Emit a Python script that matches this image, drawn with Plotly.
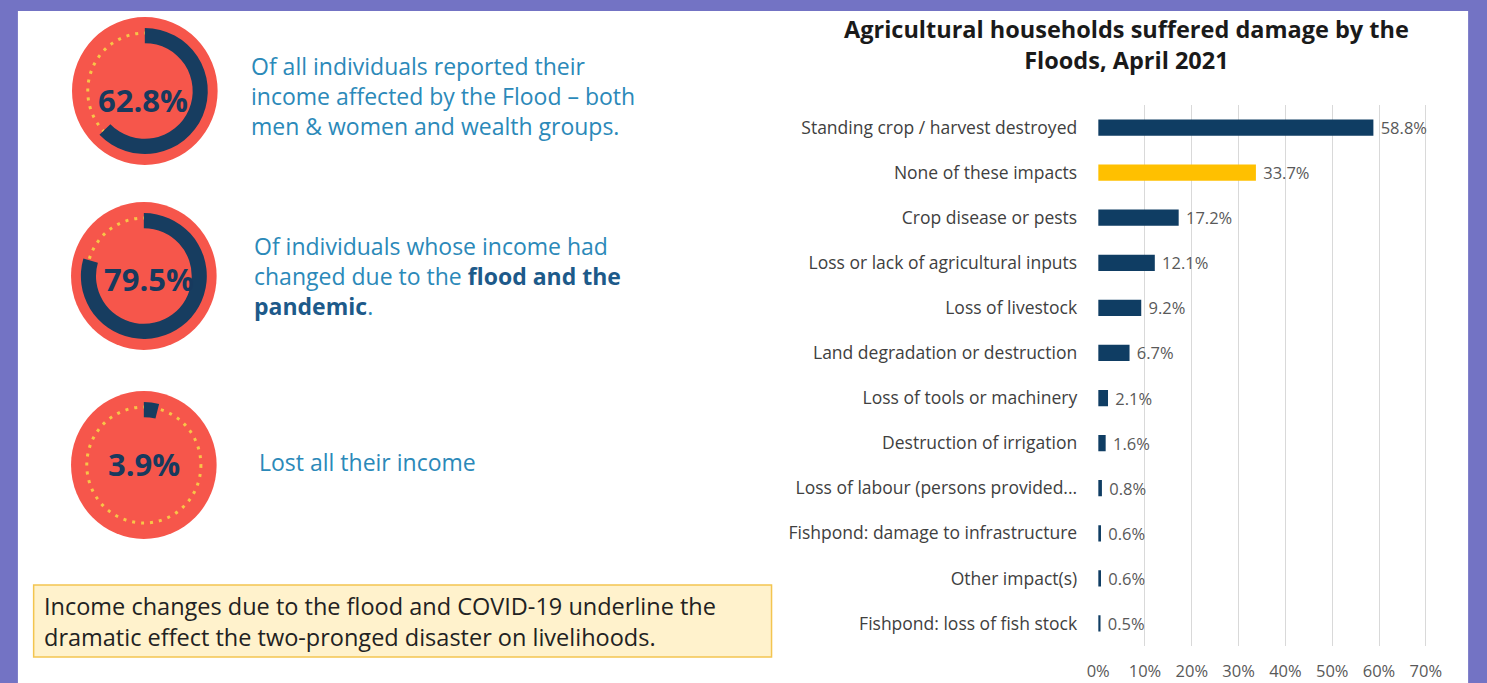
import plotly.graph_objects as go

W, H = 1487, 683

# ---------------- data ----------------
categories = [
    "Standing crop / harvest destroyed",
    "None of these impacts",
    "Crop disease or pests",
    "Loss or lack of agricultural inputs",
    "Loss of livestock",
    "Land degradation or destruction",
    "Loss of tools or machinery",
    "Destruction of irrigation",
    "Loss of labour (persons provided...",
    "Fishpond: damage to infrastructure",
    "Other impact(s)",
    "Fishpond: loss of fish stock",
]
values = [58.8, 33.7, 17.2, 12.1, 9.2, 6.7, 2.1, 1.6, 0.8, 0.6, 0.6, 0.5]
highlight = "None of these impacts"
x_ticks = [0, 10, 20, 30, 40, 50, 60, 70]

donut_values = [62.8, 79.5, 3.9]
donut_texts = [
    "Of all individuals reported their<br>income affected by the Flood – both<br>men &amp; women and wealth groups.",
    "Of individuals whose income had<br>changed due to the <span style='color:#1d5a8a'><b>flood and the</b></span><br><span style='color:#1d5a8a'><b>pandemic</b></span>.",
    "Lost all their income",
]
note_text = "Income changes due to the flood and COVID-19 underline the<br>dramatic effect the two-pronged disaster on livelihoods."
title_text = "<b>Agricultural households suffered damage by the<br>Floods, April 2021</b>"

# ---------------- styles ----------------
NAVY = "#0f3d63"
RING = "#173d60"
YELLOW = "#ffc000"
RED = "#f6564b"
DOT = "#f7c548"
PURPLE = "#7373c4"
TEXTBLUE = "#2b89b9"
FONT = "Open Sans"


def px(x):
    return x / W


def py(y):
    return 1 - y / H


fig = go.Figure()

# ---- bar chart ----
bar_colors = [YELLOW if c == highlight else NAVY for c in categories]
fig.add_trace(go.Bar(
    y=categories, x=values, orientation="h",
    marker=dict(color=bar_colors, line=dict(width=0)),
    width=0.36,
    text=[f" {v:.1f}%" for v in values],
    textposition="outside",
    constraintext="none",
    textfont=dict(family=FONT, size=16.5, color="#595959"),
    cliponaxis=False,
    hoverinfo="x+y",
    showlegend=False,
))

x0_px, x70_px = 1104, 1437
scale = (x70_px - x0_px) / 70.0
xmax = 71
fig.update_xaxes(
    domain=[px(x0_px), px(x0_px + xmax * scale)],
    range=[0, xmax],
    tickvals=x_ticks,
    ticktext=[f"{t}%" for t in x_ticks],
    showgrid=True, gridcolor="#d9d9d9", gridwidth=1,
    zeroline=False, showline=False,
    tickfont=dict(family=FONT, size=16.5, color="#595959"),
    ticklabelstandoff=13,
    fixedrange=True,
)
fig.update_yaxes(
    domain=[py(646), py(105)],
    autorange="reversed",
    showgrid=False, zeroline=False, showline=False,
    tickfont=dict(family=FONT, size=17.5, color="#404040"),
    ticklabelstandoff=20,
    fixedrange=True,
)

# ---- donuts ----
centers = [(135, 91), (134, 276), (134, 465)]
label_pos = [(133, 100), (139, 279), (134, 464)]
R_RED = 74
R_OUT = 64
R_DOT = 58
shapes = [
    dict(type="rect", xref="paper", yref="paper", x0=px(6), x1=px(1480), y0=0, y1=py(11),
         fillcolor="white", line=dict(width=0), layer="below"),
    dict(type="rect", xref="paper", yref="paper", x0=px(22), x1=px(772), y0=py(585), y1=py(657),
         fillcolor="#fff2cc", line=dict(color="#f3c550", width=1.5), layer="below"),
]
for (cx, cy), v in zip(centers, donut_values):
    shapes.append(dict(type="circle", xref="paper", yref="paper",
                       x0=px(cx - R_RED), x1=px(cx + R_RED), y0=py(cy + R_RED), y1=py(cy - R_RED),
                       fillcolor=RED, line=dict(width=0), layer="below"))
    shapes.append(dict(type="circle", xref="paper", yref="paper",
                       x0=px(cx - R_DOT), x1=px(cx + R_DOT), y0=py(cy + R_DOT), y1=py(cy - R_DOT),
                       fillcolor="rgba(0,0,0,0)", line=dict(color=DOT, width=3, dash="3px,6px"),
                       layer="below"))
    fig.add_trace(go.Pie(
        values=[v, 100 - v],
        marker=dict(colors=[RING, "rgba(0,0,0,0)"], line=dict(width=0)),
        hole=0.76, sort=False, direction="clockwise", rotation=0,
        textinfo="none", hoverinfo="skip", showlegend=False,
        domain=dict(x=[px(cx - R_OUT), px(cx + R_OUT)], y=[py(cy + R_OUT), py(cy - R_OUT)]),
    ))

annotations = []
for (lx, ly), v in zip(label_pos, donut_values):
    annotations.append(dict(xref="paper", yref="paper", x=px(lx), y=py(ly),
                            text=f"<b>{v:.1f}%</b>", showarrow=False,
                            font=dict(family=FONT, size=31, color="#173a5e"),
                            xanchor="center", yanchor="middle"))

text_pos = [(241, 96), (244, 276), (249, 462)]
for (tx, ty), t in zip(text_pos, donut_texts):
    annotations.append(dict(xref="paper", yref="paper", x=px(tx), y=py(ty), text=t,
                            showarrow=False, align="left", xanchor="left", yanchor="middle",
                            font=dict(family=FONT, size=23, color=TEXTBLUE)))

annotations.append(dict(xref="paper", yref="paper", x=px(31), y=py(621), text=note_text,
                        showarrow=False, align="left", xanchor="left", yanchor="middle",
                        font=dict(family=FONT, size=23.5, color="#222222")))
annotations.append(dict(xref="paper", yref="paper", x=px(1133), y=py(44), text=title_text,
                        showarrow=False, align="center", xanchor="center", yanchor="middle",
                        font=dict(family=FONT, size=23.5, color="#1a1a1a")))

fig.update_layout(
    width=W, height=H,
    margin=dict(l=0, r=0, t=0, b=0),
    paper_bgcolor=PURPLE,
    plot_bgcolor="rgba(0,0,0,0)",
    shapes=shapes,
    annotations=annotations,
)

fig.write_html(
    "out.html",
    config={"displayModeBar": False},
    post_script="document.body.style.margin='0';document.body.style.overflow='hidden';",
)
